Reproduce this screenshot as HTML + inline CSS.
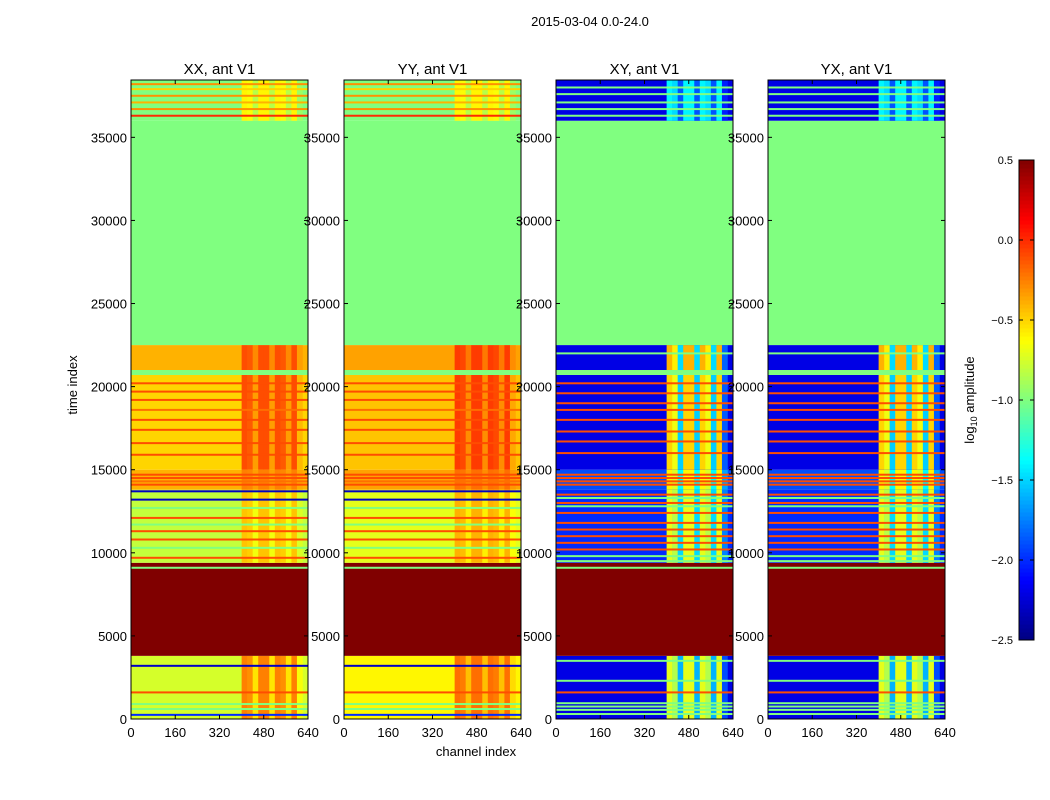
<!DOCTYPE html>
<html><head><meta charset="utf-8"><style>
body{margin:0;background:#fff;}
svg{display:block;font-family:"Liberation Sans",sans-serif;}
</style></head><body>
<svg id="fig" width="1050" height="800" viewBox="0 0 1050 800">
<text x="590" y="26" font-size="13" text-anchor="middle">2015-03-04 0.0-24.0</text>
<g id="panels"></g>
<g id="cbar"></g>
<text x="77" y="385" font-size="13" text-anchor="middle" transform="rotate(-90 77 385)">time index</text>
<text x="476" y="756" font-size="13" text-anchor="middle">channel index</text>
<text x="974" y="400" font-size="13" text-anchor="middle" transform="rotate(-90 974 400)">log<tspan font-size="9" dy="3">10</tspan><tspan dy="-3"> amplitude</tspan></text>
</svg>
<script>
// ---- data ----
const panelTitles = ["XX, ant V1","YY, ant V1","XY, ant V1","YX, ant V1"];
const xTicks = [0,160,320,480,640];
const yTicks = [0,5000,10000,15000,20000,25000,30000,35000];
const cbTicks = [-2.5,-2.0,-1.5,-1.0,-0.5,0.0,0.5];
// time segments: start, end
const segStart = [0,3800,9400,13800,15000,20700,21000,22500,36000];
const segEnd   = [3800,9400,13800,15000,20700,21000,22500,36000,38450];
// base / hot values (log10 amplitude) per segment, per panel
const baseXX = [-0.75,0.5,-0.8,-0.4,-0.5,-1.0,-0.4,-1.0,-1.0];
const hotXX  = [-0.25,0.5,-0.45,-0.25,-0.1,-1.0,-0.1,-1.0,-0.6];
const baseYY = [-0.6,0.5,-0.7,-0.35,-0.45,-1.0,-0.35,-1.0,-1.0];
const hotYY  = [-0.2,0.5,-0.4,-0.2,-0.05,-1.0,-0.05,-1.0,-0.6];
const baseXY = [-2.2,0.5,-2.0,-1.9,-2.2,-1.0,-2.2,-1.0,-2.2];
const hotXY  = [-0.7,0.5,-0.7,-0.6,-0.5,-1.0,-0.4,-1.0,-1.4];
const baseYX = [-2.2,0.5,-2.0,-1.9,-2.2,-1.0,-2.2,-1.0,-2.2];
const hotYX  = [-0.7,0.5,-0.7,-0.6,-0.5,-1.0,-0.4,-1.0,-1.4];
// channel profile: 32 bins of 20 channels, fraction of hot value
const chanBoost = [0,0,0,0,0,0,0,0,0,0,0,0,0,0,0,0,0,0,0,0,1,0.9,0.4,1,1,0.4,1,0.9,0.4,1,0.2,0];
// full-width stripes: time, value
const stripeTimesXX = [250,600,900,1600,3200,9100,9700,10300,10800,11300,11700,12100,12700,13200,13700,14100,14300,14500,14700,15900,16600,17400,18000,18600,19200,19700,20200,36300,36700,37100,37500,37900,38200];
const stripeValsXX  = [-2.0,-1.0,-1.0,-0.1,-2.3,-1.0,-0.1,-1.0,-0.1,-0.1,-1.0,-0.1,-1.0,-2.3,-2.3,-0.1,-0.2,-0.1,-0.1,-0.1,-0.1,-0.1,-0.1,-0.2,-0.1,-0.1,-0.1,-0.0,-0.3,-0.4,-0.3,-0.5,-0.3];
const stripeTimesXY = [300,550,750,950,1600,2300,3500,9100,9500,9800,10200,10600,11000,11400,11800,12400,12800,13000,13300,13500,14100,14300,14500,14700,16000,16700,17300,18000,18600,19000,19600,20200,22000,36300,36700,37100,37600,38000];
const stripeValsXY  = [-1.0,-1.0,-1.0,-1.0,-0.1,-1.0,-1.0,-1.0,-1.0,-1.0,-0.1,-0.1,-0.1,-0.1,-0.1,-0.1,-1.0,-0.1,-1.0,-0.1,-0.1,-0.1,-0.1,-0.1,-0.1,-0.1,-0.1,-0.1,-0.1,-0.1,-0.1,-0.1,-1.0,-1.0,-1.0,-1.0,-1.0,-1.0];

const panelBase = [baseXX,baseYY,baseXY,baseYX];
const panelHot = [hotXX,hotYY,hotXY,hotYX];
const panelStripeT = [stripeTimesXX,stripeTimesXX,stripeTimesXY,stripeTimesXY];
const panelStripeV = [stripeValsXX,stripeValsXX,stripeValsXY,stripeValsXY];
const panelLeft = [131,344,556,768];

// ---- layout ----
const PW=177, PT=80, PB=719, TMAX=38450, CMAX=640;
const NS="http://www.w3.org/2000/svg";
function el(t,a,p){const e=document.createElementNS(NS,t);for(const k in a)e.setAttribute(k,a[k]);p.appendChild(e);return e;}
function jet(v){let x=(v+2.5)/3;x=Math.max(0,Math.min(1,x));
 const f=t=>Math.max(0,Math.min(1,1.5-Math.abs(4*x-t)));
 return `rgb(${Math.round(f(3)*255)},${Math.round(f(2)*255)},${Math.round(f(1)*255)})`;}
const yScale=t=>PB-(t/TMAX)*(PB-PT);

const panels=document.getElementById('panels');
panelTitles.forEach((title,p)=>{
 const L=panelLeft[p];
 const xScale=c=>L+(c/CMAX)*PW;
 const g=el('g',{},panels);
 
 
 const base=panelBase[p],hot=panelHot[p];
 segStart.forEach((s,i)=>{
  const y0=yScale(segEnd[i]),y1=yScale(s);
  const r=el('rect',{x:xScale(0),y:y0,width:xScale(CMAX)-xScale(0),height:y1-y0,fill:jet(base[i])},g);
  
  
  chanBoost.forEach((b,k)=>{
   if(b<=0||hot[i]===base[i])return;
   const x0=xScale(k*20),x1=xScale(k*20+20);
   const c=el('rect',{x:x0,y:y0,width:x1-x0+0.3,height:y1-y0,fill:jet(base[i]+(hot[i]-base[i])*b)},g);
   
   
  });
 });
 const st=panelStripeT[p],sv=panelStripeV[p];
 st.forEach((t,i)=>{
  const y0=yScale(t+60),y1=yScale(t-60);
  const r=el('rect',{x:xScale(0),y:y0,width:PW,height:Math.max(1.4,y1-y0),fill:jet(sv[i])},g);
  
  
 });
 const fr=el('rect',{x:L,y:PT,width:PW,height:PB-PT,fill:'none',stroke:'#000','stroke-width':1},g);
 
 
 const tt=el('text',{x:L+PW/2,y:PT-6,'font-size':15,'text-anchor':'middle'},g);tt.textContent=title;
 
 
 xTicks.forEach(v=>{
  const x=xScale(v);
  el('line',{x1:x,x2:x,y1:PB,y2:PB-4,stroke:'#000'},g);
  el('line',{x1:x,x2:x,y1:PT,y2:PT+4,stroke:'#000'},g);
  const t=el('text',{x:x,y:PB+18,'font-size':13,'text-anchor':'middle'},g);t.textContent=v;
  
  
 });
 yTicks.forEach(v=>{
  const y=yScale(v);
  el('line',{x1:L,x2:L+4,y1:y,y2:y,stroke:'#000'},g);
  el('line',{x1:L+PW,x2:L+PW-4,y1:y,y2:y,stroke:'#000'},g);
  const t=el('text',{x:L-4,y:y+5,'font-size':13,'text-anchor':'end'},g);t.textContent=v;
  
  
 });
});

// colorbar
const cb=document.getElementById('cbar');
const CBX=1019,CBW=15,CBT=160,CBB=640;
const cbY=v=>CBB-(v+2.5)/3*(CBB-CBT);
for(let i=0;i<120;i++){
 const v=-2.5+3*i/120;
 const r=el('rect',{x:CBX,y:cbY(v+3/120),width:CBW,height:(CBB-CBT)/120+0.5,fill:jet(v+1.5/120)},cb);
 
 
}
const cf=el('rect',{x:CBX,y:CBT,width:CBW,height:CBB-CBT,fill:'none',stroke:'#000'},cb);


cbTicks.forEach(v=>{
 const y=cbY(v);
 el('line',{x1:CBX,x2:CBX+4,y1:y,y2:y,stroke:'#000'},cb);
 el('line',{x1:CBX+CBW,x2:CBX+CBW-4,y1:y,y2:y,stroke:'#000'},cb);
 const t=el('text',{x:1013,y:y+4,'font-size':11,'text-anchor':'end'},cb);
 t.textContent=(v<0?'\u2212'+Math.abs(v).toFixed(1):v.toFixed(1));
 
 
});
</script>
</body></html>
